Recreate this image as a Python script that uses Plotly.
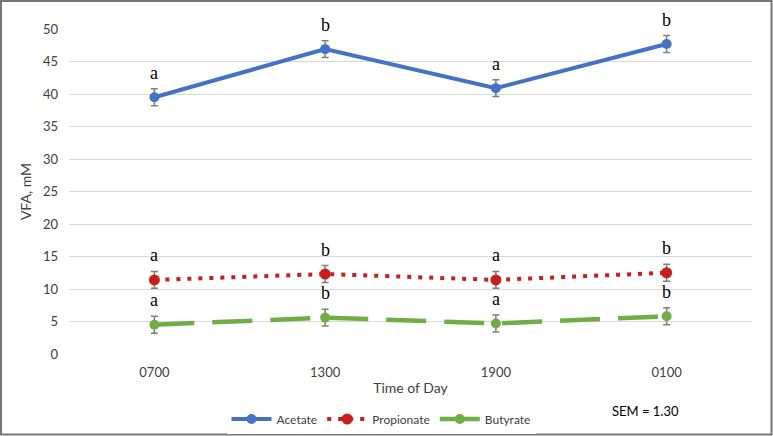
import plotly.graph_objects as go

times = ["0700", "1300", "1900", "0100"]
acetate = [39.5, 46.9, 40.9, 47.7]
propionate = [11.4, 12.3, 11.4, 12.5]
butyrate = [4.5, 5.6, 4.7, 5.8]
sem = 1.30
acetate_letters = ["a", "b", "a", "b"]
propionate_letters = ["a", "b", "a", "b"]
butyrate_letters = ["a", "b", "a", "b"]

W, H = 773, 436
L, R, T, B = 69, 21, 29, 82
pw, ph = W - L - R, H - T - B

fig = go.Figure()
series = [
    ("Acetate", acetate, acetate_letters, "#4472C4", "solid", 4),
    ("Propionate", propionate, propionate_letters, "#C81E1E", "4px,7px", 4),
    ("Butyrate", butyrate, butyrate_letters, "#70AD47", "40px,18px", 4.5),
]
for name, vals, letters, col, dash, lw in series:
    fig.add_trace(go.Scatter(
        x=times, y=vals, name=name, mode="lines+markers",
        line=dict(color=col, width=lw, dash=dash),
        marker=dict(color=col, size=10 if name != "Propionate" else 11),
        error_y=dict(type="constant", value=sem, color="#7F7F7F", thickness=1.5, width=3.5),
    ))
    for i, (v, l) in enumerate(zip(vals, letters)):
        fig.add_annotation(x=i, y=v + sem, text=l, showarrow=False, yanchor="bottom", yshift=4,
                           font=dict(family="Liberation Serif", size=18, color="#000000"))

fig.add_annotation(xref="paper", yref="paper", x=(645 - L) / pw, y=(H - B - 411) / ph,
                   text="SEM = 1.30", showarrow=False, xanchor="center", yanchor="middle",
                   font=dict(family="Lato", size=13, color="#000000"))

fig.add_shape(type="rect", xref="paper", yref="paper",
              x0=(1 - L) / pw, x1=(771.5 - L) / pw, y0=(H - B - 434.5) / ph, y1=(H - B - 1) / ph,
              line=dict(color="#767676", width=2), fillcolor="rgba(0,0,0,0)", layer="below")

fig.update_layout(
    width=W, height=H, margin=dict(l=L, r=R, t=T, b=B, autoexpand=False),
    paper_bgcolor="white", plot_bgcolor="white",
    font=dict(family="Lato", size=13, color="#404040"),
    showlegend=True,
    legend=dict(orientation="h", x=(381 - L) / pw, xanchor="center", y=(H - B - 419) / ph, yanchor="middle",
                font=dict(size=12, color="#404040"), itemwidth=40, tracegroupgap=0),
    xaxis=dict(type="category", range=[-0.5, 3.5], showgrid=False, zeroline=False,
               showline=False, ticks="", ticklabelstandoff=9, tickfont=dict(size=13, color="#404040"),
               title=dict(text="Time of Day", font=dict(size=14, color="#404040"), standoff=4)),
    yaxis=dict(range=[0, 50], dtick=5, showgrid=True, gridcolor="#D9D9D9", gridwidth=1.2,
               zeroline=False, showline=False, ticks="", ticklabelstandoff=10,
               tickfont=dict(size=13, color="#404040"),
               title=dict(text="VFA, mM", font=dict(size=14, color="#404040"), standoff=8)),
)
fig.write_html("out.html", config={"displayModeBar": False},
               post_script="document.body.style.margin='0';")
